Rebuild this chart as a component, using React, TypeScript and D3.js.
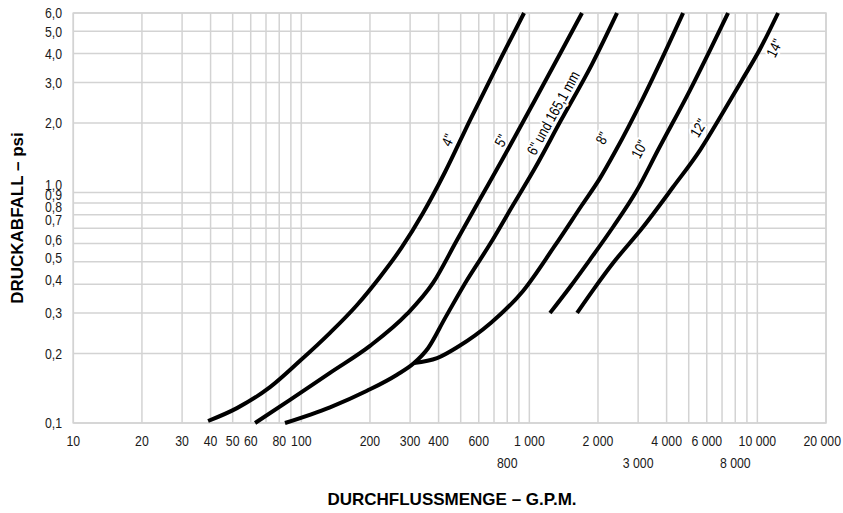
import React from "react";
import * as d3 from "d3";

const width = 843;
const height = 513;
const plot = { left: 73.3, right: 826, top: 13, bottom: 423 };

// grid lines (log decades)
const xGrid = [10, 20, 30, 40, 50, 60, 70, 80, 90, 100, 200, 300, 400, 500, 600, 700, 800, 900,
  1000, 2000, 3000, 4000, 5000, 6000, 7000, 8000, 9000, 10000, 20000];
const yGrid = [0.1, 0.2, 0.3, 0.4, 0.5, 0.6, 0.7, 0.8, 0.9, 1, 2, 3, 4, 5, 6];

// tick labels
const xTicksRow1 = [10, 20, 30, 40, 50, 60, 80, 100, 200, 300, 400, 600, 1000, 2000, 4000, 6000, 10000, 20000];
const xTicksRow2 = [800, 3000, 8000];
const yTicks = [0.1, 0.2, 0.3, 0.4, 0.5, 0.6, 0.7, 0.8, 0.9, 1, 2, 3, 4, 5, 6];

// curves: flow (G.P.M.) vs pressure drop (psi)
const gpm4 = [39, 52.2, 72.9, 98.7, 133.6, 175.5, 221.4, 276.5, 341.8, 426.9, 549.5, 751.5, 948];
const psi4 = [0.102, 0.116, 0.143, 0.186, 0.246, 0.325, 0.43, 0.58, 0.814, 1.226, 2.06, 3.83, 6.0];

const gpm5 = [62.7, 89.2, 133.6, 200.1, 290.9, 378.1, 481.8, 607.8, 759.2, 892.1, 1059, 1377, 1702];
const psi5 = [0.1, 0.126, 0.165, 0.216, 0.297, 0.405, 0.622, 0.936, 1.382, 1.846, 2.516, 4.063, 6.0];

const gpm6 = [84.8, 133.6, 194.2, 262.9, 312.1, 359.5, 426.9, 533.2, 672.4, 848.3, 1059, 1363, 1884, 2424];
const psi6 = [0.1, 0.117, 0.138, 0.162, 0.182, 0.211, 0.285, 0.417, 0.597, 0.882, 1.276, 2.02, 3.604, 6.0];

const gpm8 = [312.1, 393.8, 486.7, 679.2, 938.5, 1283, 1702, 2042, 2400, 3121, 3937, 4723];
const psi8 = [0.182, 0.191, 0.214, 0.272, 0.374, 0.58, 0.882, 1.154, 1.527, 2.516, 4.063, 6.0];

const gpm10 = [1232, 1508, 1839, 2329, 2968, 3668, 5068, 6201, 7437];
const psi10 = [0.3, 0.389, 0.509, 0.708, 1.024, 1.527, 2.78, 4.145, 6.0];

const gpm12 = [1619, 1903, 2329, 3153, 4269, 5607, 7001, 8569, 10276, 12325];
const psi12 = [0.3, 0.377, 0.494, 0.708, 1.055, 1.527, 2.188, 3.072, 4.187, 6.0];

// curve labels
const labelText = ['4"', '5"', '6" und 165,1 mm', '8"', '10"', '12"', '14"'];
const labelGpm = [439, 751, 1272, 2087, 3035, 5515, 11876];
const labelPsi = [1.687, 1.68, 2.21, 1.72, 1.54, 1.902, 4.23];
const labelCurve = [0, 1, 2, 3, 4, 5, 5];

const curves = [
  d3.zip(gpm4, psi4),
  d3.zip(gpm5, psi5),
  d3.zip(gpm6, psi6),
  d3.zip(gpm8, psi8),
  d3.zip(gpm10, psi10),
  d3.zip(gpm12, psi12),
] as [number, number][][];

const font = "'Liberation Sans', Arial, sans-serif";
const squeeze = 0.82; // narrow look of the original type
const gridColor = "#d3d3d3";

const locale = d3.formatLocale({ decimal: ",", thousands: " ", grouping: [3], currency: ["", ""] });
const fmtX = locale.format(",d");
const fmtY = locale.format(".1f");

// cramped labels between 0,4 and 1,0 sit a bit higher
const yNudge = (v: number) => (v >= 0.7 && v <= 1 ? -8 : v >= 0.4 && v <= 0.6 ? -4 : 0);

function NarrowText({ x, y, anchor, rotate = 0, children, halo = false }:
  { x: number; y: number; anchor: string; rotate?: number; children: React.ReactNode; halo?: boolean }) {
  return (
    <text transform={`translate(${x},${y}) rotate(${rotate}) scale(${squeeze},1)`} textAnchor={anchor} dy="0.35em"
      stroke={halo ? "#fff" : "none"} strokeWidth={halo ? 4.5 : 0} strokeLinejoin="round" paintOrder="stroke">
      {children}
    </text>
  );
}

export default function App() {
  const x = d3.scaleLog().domain([10, 20000]).range([plot.left, plot.right]);
  const y = d3.scaleLog().domain([0.1, 6]).range([plot.bottom, plot.top]);

  const line = d3.line<[number, number]>()
    .x(d => x(d[0]))
    .y(d => y(d[1]))
    .curve(d3.curveMonotoneX);

  // tangent angle of a curve at a given pixel height
  const angleAt = (pts: [number, number][], py: number) => {
    const px = pts.map(d => [x(d[0]), y(d[1])]);
    for (let i = 0; i < px.length - 1; i++) {
      const [x0, y0] = px[i];
      const [x1, y1] = px[i + 1];
      if (py <= y0 && py >= y1) {
        return (Math.atan2(y1 - y0, x1 - x0) * 180) / Math.PI;
      }
    }
    const n = px.length;
    return (Math.atan2(px[n - 1][1] - px[n - 2][1], px[n - 1][0] - px[n - 2][0]) * 180) / Math.PI;
  };

  const xMax = x.domain()[1];

  return (
    <svg width={width} height={height} style={{ position: "absolute", left: 0, top: 0, background: "#fff" }}>
      <g stroke={gridColor} strokeWidth={1.5}>
        {xGrid.map(v => (
          <line key={"gx" + v} x1={x(v)} x2={x(v)} y1={plot.top} y2={plot.bottom} />
        ))}
        {yGrid.map(v => (
          <line key={"gy" + v} x1={plot.left} x2={plot.right} y1={y(v)} y2={y(v)} />
        ))}
      </g>
      <rect x={plot.left} y={plot.top} width={plot.right - plot.left} height={plot.bottom - plot.top}
        fill="none" stroke={gridColor} strokeWidth={1.5} />

      <g fontFamily={font} fontSize={15} fill="#1a1a1a">
        {yTicks.map(v => (
          <NarrowText key={"ty" + v} x={62} y={y(v) + yNudge(v)} anchor="end">{fmtY(v)}</NarrowText>
        ))}
        {xTicksRow1.map(v => (
          // last label is kept inside the page edge
          v === xMax
            ? <NarrowText key={"tx" + v} x={width - 2} y={441} anchor="end">{fmtX(v)}</NarrowText>
            : <NarrowText key={"tx" + v} x={x(v)} y={441} anchor="middle">{fmtX(v)}</NarrowText>
        ))}
        {xTicksRow2.map(v => (
          <NarrowText key={"tx2" + v} x={x(v)} y={463} anchor="middle">{fmtX(v)}</NarrowText>
        ))}
      </g>

      <g fill="none" stroke="#000" strokeWidth={4}>
        {curves.map((c, i) => (
          <path key={"c" + i} d={line(c) || ""} />
        ))}
      </g>

      <g fontFamily={font} fontSize={15} fill="#000">
        {labelText.map((t, i) => {
          const cx = x(labelGpm[i]);
          const cy = y(labelPsi[i]);
          const a = angleAt(curves[labelCurve[i]], cy);
          return (
            <NarrowText key={"l" + i} x={cx} y={cy} rotate={a} anchor="middle" halo>{t}</NarrowText>
          );
        })}
      </g>

      <text x={452} y={505} textAnchor="middle" fontFamily={font} fontWeight="bold" fontSize={17} fill="#000">
        DURCHFLUSSMENGE – G.P.M.
      </text>
      <text transform={`translate(23,${(plot.top + plot.bottom) / 2}) rotate(-90)`} textAnchor="middle"
        fontFamily={font} fontWeight="bold" fontSize={17} fill="#000">
        DRUCKABFALL – psi
      </text>
    </svg>
  );
}
